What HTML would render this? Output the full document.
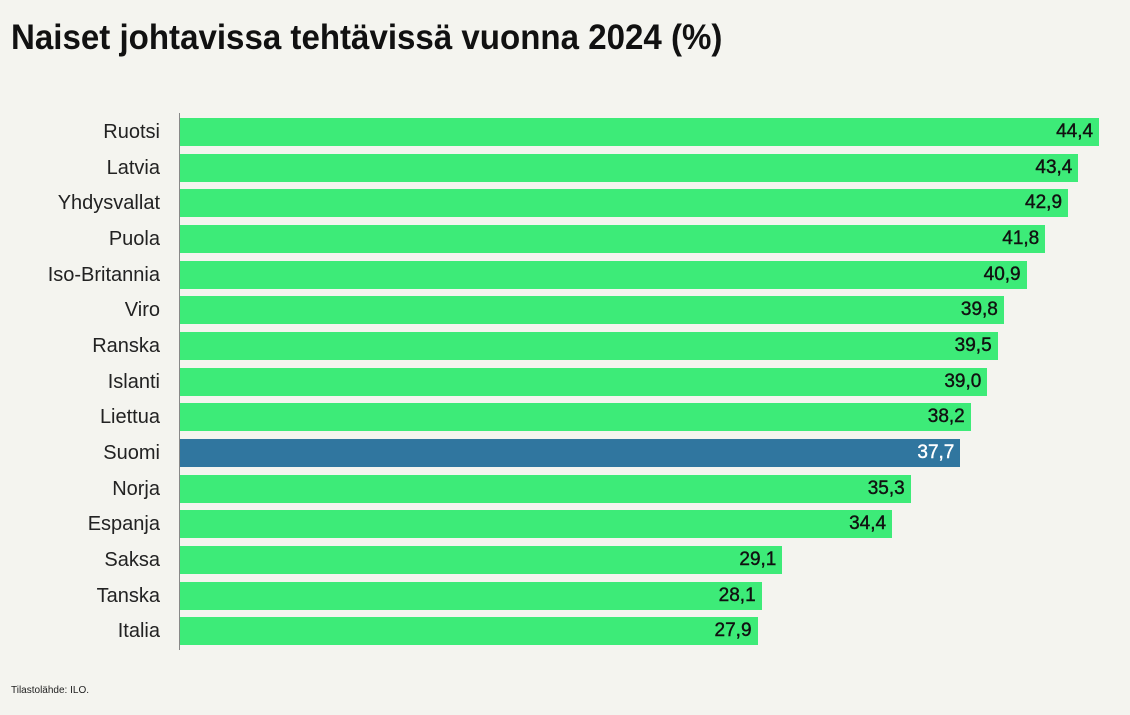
<!DOCTYPE html>
<html><head><meta charset="utf-8"><style>
body{margin:0;width:1130px;height:715px;background:#f4f4ef;position:relative;font-family:"Liberation Sans Narrow","Liberation Sans",sans-serif;overflow:hidden}
.t{position:absolute;left:11px;top:18px;font-size:35px;font-weight:bold;color:#111;transform:scaleX(0.945);transform-origin:left}
.ax{position:absolute;left:179px;top:113px;width:1px;height:537px;background:#888}
.r{position:absolute;left:0;height:28px}
.l{position:absolute;width:200px;text-align:right;font-size:20px;line-height:28px;color:#222}
.b{position:absolute;left:180px;height:28px;background:#3deb78}
.v{position:absolute;right:6px;top:0;line-height:28px;font-size:19px;color:#111;font-family:"Liberation Sans",sans-serif;-webkit-text-stroke:0.4px #111}
.s{position:absolute;left:11px;top:685px;font-size:10px;color:#222}
</style></head><body>
<div class="t">Naiset johtavissa tehtävissä vuonna 2024 (%)</div>
<div class="ax"></div>
<div id="c"></div>
<div class="s">Tilastolähde: ILO.</div>
<script>
var d=[["Ruotsi",44.4],["Latvia",43.4],["Yhdysvallat",42.9],["Puola",41.8],["Iso-Britannia",40.9],["Viro",39.8],["Ranska",39.5],["Islanti",39.0],["Liettua",38.2],["Suomi",37.7],["Norja",35.3],["Espanja",34.4],["Saksa",29.1],["Tanska",28.1],["Italia",27.9]];
var h="";
d.forEach(function(e,i){var y=118+i*35.67;var w=e[1]*20.7;var s=e[0]=="Suomi";
h+='<div class="l" style="top:'+y+'px;right:'+(1130-160)+'px">'+e[0]+'</div>';
h+='<div class="b" style="top:'+y+'px;width:'+w+'px;'+(s?'background:#30769f':'')+'"><span class="v" style="'+(s?'color:#fff;-webkit-text-stroke:0.4px #fff':'')+'">'+e[1].toFixed(1).replace(".",",")+'</span></div>';});
document.getElementById("c").innerHTML=h;
</script>
</body></html>
